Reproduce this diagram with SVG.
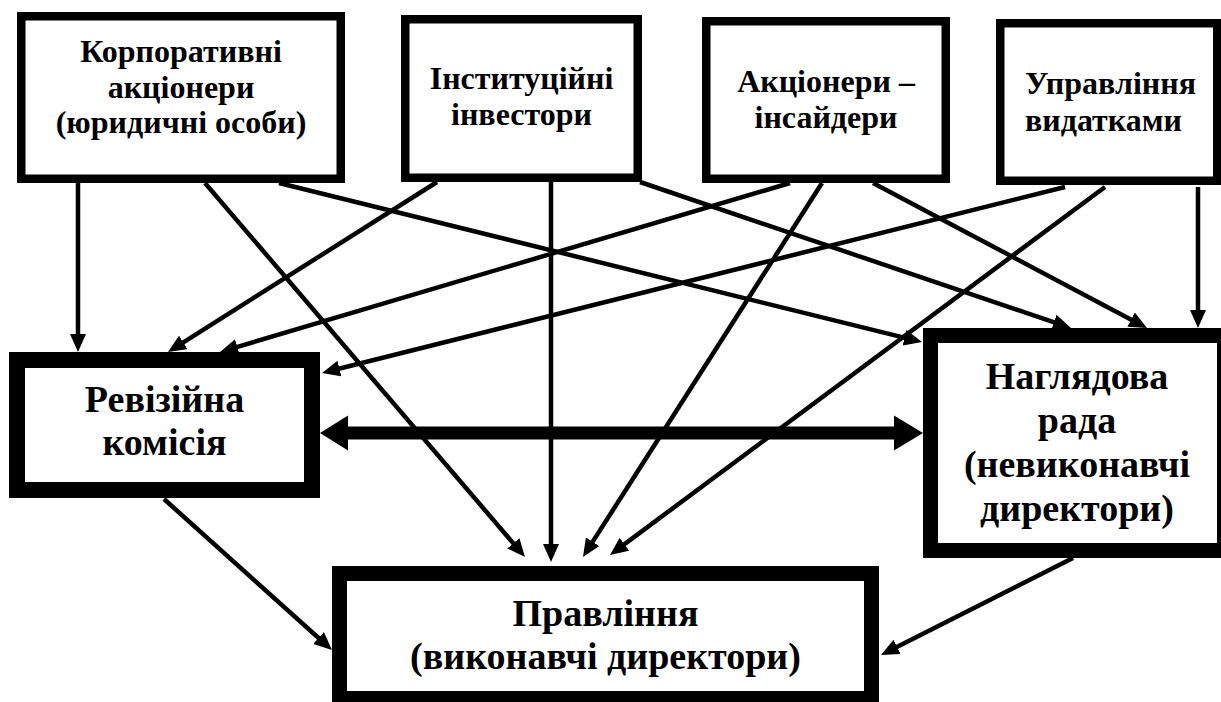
<svg xmlns="http://www.w3.org/2000/svg" width="1221" height="702" viewBox="0 0 1221 702">
  <style>
    .box { fill: #fff; stroke: #000; }
    .thin { stroke-width: 8.5; }
    .thick { stroke-width: 15; }
    .lbl { font-family: "Liberation Serif", "Times New Roman", serif; font-weight: bold; fill: #000; text-anchor: middle; }
    .left { text-anchor: start; }
    .s32 { font-size: 32px; }
    .s38 { font-size: 38px; }
    .link { stroke: #000; stroke-width: 4.5; fill: none; marker-end: url(#head); }
  </style>
  <defs>
    <marker id="head" markerUnits="userSpaceOnUse" markerWidth="18" markerHeight="16" refX="12" refY="8" orient="auto">
      <path d="M0,0 L18,8 L0,16 Z" fill="#000"/>
    </marker>
  </defs>
  <rect width="1221" height="702" fill="#fff"/>

  <g id="connectors">
    <!-- shareholder groups to the audit commission -->
    <line class="link" x1="78" y1="183" x2="78" y2="346"/>
    <line class="link" x1="437" y1="182" x2="173.1" y2="348.8"/>
    <line class="link" x1="790" y1="183" x2="225.8" y2="350.3"/>
    <line class="link" x1="1065" y1="187" x2="327.8" y2="371.5"/>
    <!-- shareholder groups to the executive board -->
    <line class="link" x1="205" y1="183" x2="521.1" y2="552.4"/>
    <line class="link" x1="551" y1="182" x2="551" y2="556"/>
    <line class="link" x1="822" y1="183" x2="586.2" y2="551.9"/>
    <line class="link" x1="1105" y1="187" x2="614.8" y2="551.4"/>
    <!-- shareholder groups to the supervisory board -->
    <line class="link" x1="279" y1="183" x2="916.2" y2="340.6"/>
    <line class="link" x1="640" y1="182" x2="1065.3" y2="326.1"/>
    <line class="link" x1="873" y1="183" x2="1141.7" y2="325.2"/>
    <line class="link" x1="1198" y1="187" x2="1198" y2="322"/>
    <!-- control bodies to the executive board -->
    <line class="link" x1="164" y1="499" x2="327.5" y2="646"/>
    <line class="link" x1="1073" y1="558" x2="886.4" y2="652.3"/>
    <!-- two-way link between the audit commission and the supervisory board -->
    <path d="M320,433 L348,415.5 L348,426.5 L894,426.5 L894,415.5 L923,433 L894,450.5 L894,439.5 L348,439.5 L348,450.5 Z" fill="#000"/>
  </g>

  <g id="corporate">
    <rect class="box thin" x="21.25" y="16.25" width="319.5" height="162.5"/>
    <text class="lbl s32" x="181" y="62">Корпоративні</text>
    <text class="lbl s32" x="181" y="97.5">акціонери</text>
    <text class="lbl s32" x="181" y="133">(юридичні особи)</text>
  </g>

  <g id="institutional">
    <rect class="box thin" x="405.25" y="19.25" width="232.5" height="158.5"/>
    <text class="lbl s32" x="521.5" y="89">Інституційні</text>
    <text class="lbl s32" x="521.5" y="125">інвестори</text>
  </g>

  <g id="insiders">
    <rect class="box thin" x="706.25" y="21.25" width="239.5" height="157.5"/>
    <text class="lbl s32" x="826" y="92">Акціонери –</text>
    <text class="lbl s32" x="826" y="128">інсайдери</text>
  </g>

  <g id="expenses">
    <rect class="box thin" x="1000.25" y="23.25" width="217" height="157.5"/>
    <text class="lbl left s32" x="1025" y="94">Управління</text>
    <text class="lbl left s32" x="1025" y="131">видатками</text>
  </g>

  <g id="audit">
    <rect class="box" stroke-width="16" x="17" y="360" width="295" height="130"/>
    <text class="lbl s38" x="164.5" y="412">Ревізійна</text>
    <text class="lbl s38" x="164.5" y="455">комісія</text>
  </g>

  <g id="supervisory">
    <rect class="box thick" x="930.5" y="335.5" width="294" height="215"/>
    <text class="lbl s38" x="1077" y="389">Наглядова</text>
    <text class="lbl s38" x="1077" y="433">рада</text>
    <text class="lbl s38" x="1077" y="477">(невиконавчі</text>
    <text class="lbl s38" x="1077" y="521">директори)</text>
  </g>

  <g id="executive">
    <rect class="box thick" x="339.5" y="573.5" width="532" height="125"/>
    <text class="lbl s38" x="605.5" y="626">Правління</text>
    <text class="lbl s38" x="605.5" y="669">(виконавчі директори)</text>
  </g>
</svg>
